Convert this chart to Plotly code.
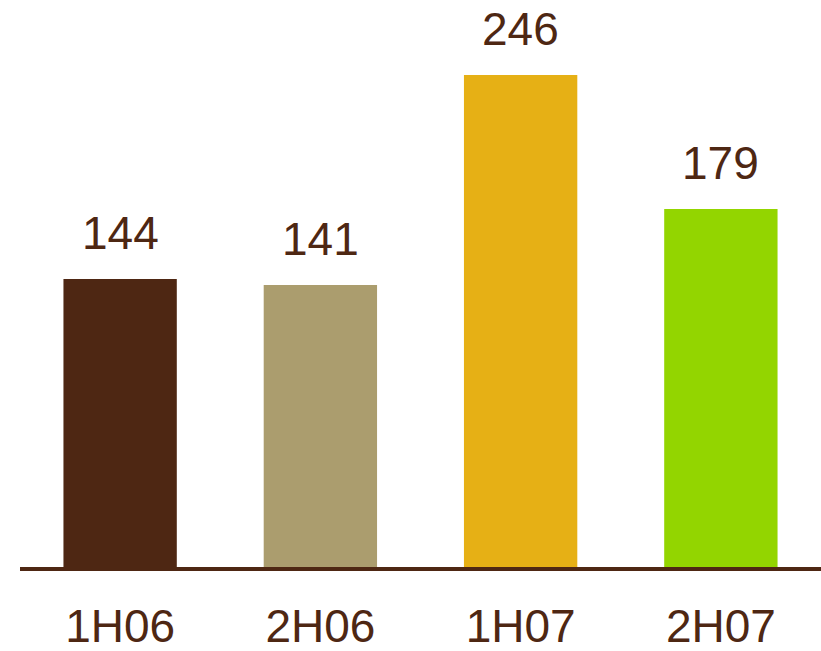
import plotly.graph_objects as go

categories = ["1H06", "2H06", "1H07", "2H07"]
values = [144, 141, 246, 179]
colors = ["#4E2713", "#AB9D6E", "#E6B015", "#93D500"]
text_color = "#4E2713"

fig = go.Figure()
fig.add_trace(go.Bar(
    x=categories, y=values, marker=dict(color=colors, line=dict(width=0)),
    width=0.566, hoverinfo="skip"
))
for c, v in zip(categories, values):
    fig.add_annotation(x=c, y=v, text=str(v), showarrow=False, yanchor="bottom",
                       yshift=18, font=dict(family="Liberation Sans, Arial", size=46, color=text_color))

fig.update_layout(
    width=821, height=651,
    margin=dict(l=20, r=0, t=7, b=84),
    paper_bgcolor="white", plot_bgcolor="white",
    showlegend=False,
    xaxis=dict(showline=True, linewidth=4, linecolor=text_color, ticks="",
               range=[-0.5, 3.5], automargin=False,
               tickfont=dict(family="Liberation Sans, Arial", size=46, color=text_color),
               ticklabelstandoff=16),
    yaxis=dict(range=[0, 280], visible=False, showgrid=False, zeroline=False,
               automargin=False),
)
fig.write_html("out.html")
